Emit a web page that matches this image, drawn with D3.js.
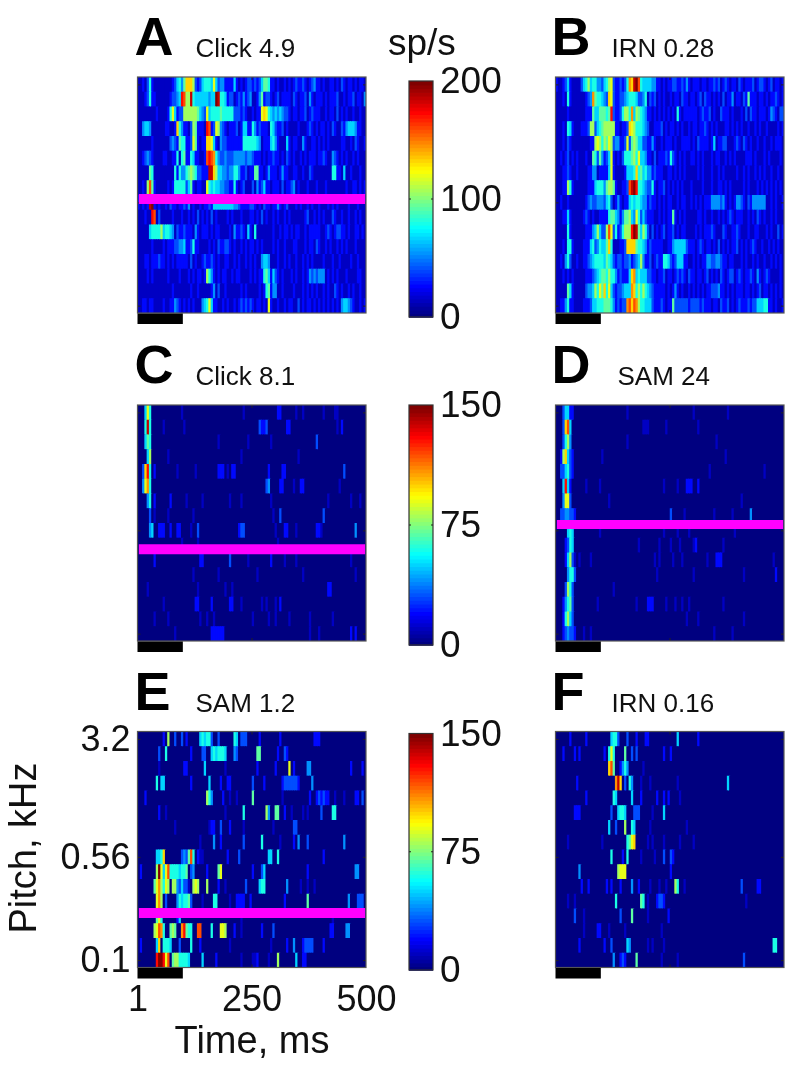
<!DOCTYPE html>
<html>
<head>
<meta charset="utf-8">
<script src="https://cdn.jsdelivr.net/npm/d3@7"></script>
<style>
body{margin:0;background:#fff}
svg{display:block;filter:blur(0.55px)}
text{font-family:"Liberation Sans",Arial,sans-serif;fill:#111}
</style>
</head>
<body>
<svg id="fig" width="800" height="1066"></svg>
<script>
// levels are hex digits, 0 = no spikes, F = top of the colour bar
// dense panels: one string per pitch row (top row first), 100 bins of 5 ms, grouped by 10
var rowsA = [
"1121362111 1111123564 7AAA832356 6659534422 2252121233 2323577622 1211212123 2232123422 1211221213 2122121221",
"1112362211 111123345D C88E655555 5455FE6652 3312324234 1124723321 2312222132 1223142122 2121222311 2122312214",
"1111111121 1112695233 8888887543 9566667666 6633323211 21229A9654 5454332122 1223123222 1121221312 1211211211",
"1145541111 1122112A64 2213872221 DC23984321 2223125522 6423222165 3223121111 2111232121 2212132113 2455542211",
"1111112111 1111343276 6223972122 AA95214332 2222226666 6654122256 4211152122 1142112212 1212111112 2112132112",
"1123432111 1221122616 7226522112 CDCB643343 3344444344 3222121223 2212132121 1212122212 2321143212 1211212111",
"1111176111 1111116264 4678763322 2EEA855443 4466422312 2772212422 2124221122 1121132111 1111166221 5112111211",
"11218C7211 1112126666 6357212211 9656554433 2262123111 3142352212 2213122341 2111211121 1121111111 1211221212",
"21212EF212 1121322122 3241211212 2325555555 5544322223 3212132212 2421231112 1211212112 1112121211 1121112111",
"111211DC13 1111121112 1121213121 2131211112 1211121112 2121312112 1211212111 1112311212 1211132112 1121121211",
"1111156666 8566541322 3222142122 2121221111 2142232152 1611111112 1121221212 2112122222 1123212332 2121122121",
"1111112111 1212223344 5223622111 1212132233 2121121212 2121211112 1211211122 1112122132 1121211212 1211121111",
"1112212223 2212121222 2213121123 2232121122 1121211212 1211455411 1211212112 1121212111 1211121121 1112112111",
"1111212111 1112111121 1121212212 8642121221 1212211112 1212267525 3212111212 1121243434 4412121211 1211112211",
"1111111111 1111121111 1112112111 1124131121 1111121211 1112126724 4112111121 1121212121 1212113212 1121211211",
"1122122111 1211224321 2121211145 6952211212 1121232323 2122121921 1211212211 3121221212 1212121214 5543211212"
];
var rowsB = [
"2112352111 1356856644 3568932232 36BAEFC655 5544221212 2332232421 2221221223 2312321221 3212223123 3212312212",
"1112162111 111234B766 543A932233 4566653346 1323121211 2122132212 2123132212 1213122412 2132722212 2121223212",
"1111121111 1112227557 7767D32236 886B587654 2212121212 1216212222 2212322312 1132221211 1213132212 2212432133",
"1112165211 1222388356 7888882212 23A9866654 3112223121 2212121121 2212232121 2111221212 1211211212 1121111212",
"1112132111 1111122898 6879834422 3937875533 2242112122 2121122221 2132222125 1223311123 2132121121 1211212221",
"1121231212 1112117637 4235921213 6667869554 2213122232 6321212112 2121211121 2211212121 1112221211 1212111121",
"1112232112 1111224412 2225921111 25556A6756 4423222112 2121212111 1121211121 1212111112 1121211212 1211211211",
"1112286211 1111222566 6478872112 23CEFD6654 3362122312 1212121112 1111211121 1221212111 1121211121 2121212121",
"1121121111 1112343344 4356312421 2256566544 2322121212 2112122112 1212122244 4434212124 4321324444 4411212112",
"1112252111 1123212112 2226775424 7785496353 2221121212 2721212111 1122121121 1212123212 2211212132 1211212111",
"1111162111 1112224585 338C936236 888DFE7586 3131212312 2312122111 1212122232 1113211223 2111211221 1121211312",
"1112166211 1122256346 557A611122 3AAAA76654 2322222112 2455555322 2123212212 1312121223 1212123211 2112121211",
"1121463112 1122345666 6576532332 3342345842 2312322665 3235552211 2121224433 4432212211 1212112121 1211212121",
"1112121211 1112223456 7768664232 225AB56555 3322122312 2123232132 2122123121 2132123312 3212232142 1232111121",
"1111175211 1113445869 7A69532334 555BA68686 5432222212 1242121121 2121212233 3422121212 2212212123 1221212121",
"1122462211 1122235566 6777642323 3BCACB8665 5532223212 2733333323 3332322212 2132231212 3222323355 5662212112"
];
// sparse panels: "bin:level" for the bins that have spikes
var rowsC = [
"3:5 4:9 5:6 19:1 46:1 61:2 62:2 69:1 72:1 81:1 86:1 87:1",
"3:6 4:E 5:6 11:1 20:1 53:3 54:2 55:2 56:3 65:2 66:2 87:1 89:2",
"3:5 4:7 5:6 35:1 48:1 58:1 78:3",
"4:5 5:8 13:1 45:1 70:1",
"2:3 3:A 4:D 5:6 7:2 17:1 25:1 35:2 36:2 37:2 39:1 41:2 42:2 57:2 63:2 64:2 90:3",
"2:4 3:9 4:B 5:6 56:3 57:4 62:2 63:2 68:1 71:2 72:2 88:1",
"4:4 5:6 7:2 14:2 21:1 28:1 40:1 45:1 58:1 83:1 93:1 97:1",
"5:3 7:1 13:1 24:1 59:1 62:3 81:3",
"5:4 6:5 9:2 10:2 11:2 14:2 17:2 18:2 23:1 26:3 44:2 45:3 46:3 60:1 64:2 65:2 69:1 78:2 79:2 80:1 95:4",
"19:1 26:1 61:1",
"7:2 27:2 28:2 40:3 48:1 58:2 64:1 69:1 93:1",
"24:1 35:1 52:1 72:1 95:1",
"4:1 26:1 38:1 41:1 83:2 84:2",
"11:1 25:2 26:2 32:2 40:2 41:2 45:1 54:1 56:1 60:1 62:2",
"7:1 13:1 27:1 30:1 33:1 50:1 57:1 60:1 66:1 75:1 85:1",
"16:1 32:2 33:2 34:2 35:2 36:2 37:2 75:1 79:1 93:2 95:2"
];
var rowsD = [
"3:3 4:5 5:5 6:2 7:2 31:1 60:1 75:1",
"3:3 4:A 5:C 6:5 38:1 39:1 40:1 48:1 62:1",
"3:3 4:6 5:8 6:4 31:1 70:1",
"2:2 3:8 4:A 5:5 6:3 7:2 20:1 74:1",
"2:3 3:3 4:5 5:6 6:3 7:2 67:1 91:1",
"3:5 4:D 5:5 6:2 13:1 19:1 47:1 53:1 57:2 58:2 59:2 62:2",
"3:4 4:9 5:9 6:3 23:1 81:1",
"2:3 3:3 4:4 5:4 6:3 7:3 8:2 50:3 56:1 69:1 77:1 85:4",
"5:5 6:6 7:5 19:1 47:1 53:1 58:1 78:1",
"4:2 5:3 6:6 7:5 36:1 45:1 50:1 54:1 60:1 61:2 73:1",
"4:2 5:5 6:8 7:3 8:1 10:1 15:1 43:1 45:1 51:1 55:1 66:1 70:2 71:2 72:2 95:1",
"5:4 6:6 7:6 8:3 44:1 60:1 82:1 96:2",
"4:3 5:8 6:6 7:3 25:1",
"3:2 4:4 5:6 6:7 7:3 18:1 35:1 40:2 41:2 42:2 48:1 52:1 55:1 58:1 73:1",
"3:2 4:6 5:8 6:5 7:3 57:1 62:1 82:1",
"3:2 4:3 5:4 6:3 7:3 8:2 12:1 15:1 69:1 77:1"
];
var rowsE = [
"11:2 13:8 16:3 19:3 21:2 27:5 28:6 29:5 30:6 31:6 32:3 35:3 42:6 43:5 45:3 46:3 47:3 53:2 62:2 77:2 78:2 79:2",
"9:3 12:6 23:2 28:3 29:3 32:5 33:6 34:5 35:6 36:6 37:6 38:5 42:4 43:3 52:7 53:7 61:2 64:3 65:2",
"9:1 20:2 21:2 29:5 38:1 52:2 60:2 66:9 68:2 74:4 75:4 93:2 98:2",
"8:6 10:5 11:5 23:2 31:5 36:2 39:2 40:2 50:3 55:2 63:2 64:3 65:3 66:3 67:3 68:3 69:3 70:2 76:4",
"3:2 30:8 31:6 32:4 37:2 40:1 43:1 50:7 63:1 75:2 78:2 79:3 80:2 81:3 82:2 83:2 86:1 90:1 95:2 96:2 98:3",
"9:2 12:1 38:1 46:6 56:8 57:4 60:7 61:7 64:2 67:1 72:1 74:1 80:3 85:6 86:6",
"16:1 31:1 32:2 33:2 36:3 40:2 46:1 59:1 68:3 69:3",
"27:1 33:4 36:2 46:3 54:6 62:1 68:2 70:4 74:3 90:4",
"8:5 9:5 10:6 11:A 19:3 20:4 21:3 22:7 23:C 24:6 26:2 27:1 28:1 39:2 44:3 57:5 58:5 61:6 81:2",
"1:2 8:8 9:F 10:9 11:5 12:9 13:C 14:6 15:6 16:6 17:6 18:5 19:6 20:6 21:7 23:3 24:4 30:2 35:7 36:9 50:2 54:3 55:5 74:2 95:4 96:4",
"7:7 8:9 9:B 10:8 11:6 12:9 13:8 15:8 16:8 17:4 18:3 19:5 20:3 21:3 22:1 24:8 25:9 26:8 30:8 35:2 38:1 47:3 53:5 54:6 55:6 65:4 71:1 74:1 77:1",
"8:9 9:B 10:8 12:3 17:4 18:6 19:5 20:6 21:6 22:7 23:3 28:1 33:6 34:6 40:1 43:2 44:2 45:2 46:2 49:2 64:2 74:7 92:4 96:3 97:3 98:3",
"8:7 9:9 10:6 17:2 18:5 45:1 85:1",
"7:8 8:9 9:C 10:B 11:6 14:7 15:8 16:7 19:B 20:D 21:7 22:6 23:6 26:C 27:C 32:6 36:9 37:9 38:8 42:2 45:1 54:2 59:3 84:2 85:2 91:4 92:4",
"1:2 8:5 9:A 11:6 12:6 13:6 14:5 18:3 23:6 27:2 40:1 58:1 65:2 68:4 72:2 73:3 74:3 75:3 76:3 81:2",
"8:D 9:F 10:F 11:D 12:9 13:C 15:7 16:8 17:8 18:6 19:6 20:6 21:6 22:5 28:5 34:2 45:1 50:1 51:1 52:2 57:1 61:8 69:5 72:2 73:2"
];
var rowsF = [
"6:2 13:2 24:5 25:6 26:6 27:3 31:3 35:2 39:2 40:2 53:5 62:2",
"3:2 8:2 10:2 21:2 23:6 24:9 25:6 30:7 33:3 35:3 47:2 50:2",
"23:A 24:C 25:7 28:2 29:4 30:6 31:4 38:1",
"9:2 26:B 27:E 28:A 30:3 32:6 33:4 37:1 41:1 53:1 75:5",
"13:2 25:6 26:5 33:5 37:2 44:2 47:2 49:2 54:1",
"8:2 9:2 10:2 24:3 27:5 28:6 29:6 30:5 34:3 35:3 36:3 42:1 47:5",
"23:5 26:3 30:8 33:6 34:5 41:1 57:1",
"5:1 20:1 31:6 32:7 33:9 34:A 40:1 42:1 47:1 54:1 60:1",
"24:6 29:2 31:6 37:1 43:1 47:3 50:3 51:2",
"10:4 27:8 28:9 29:9 30:9 50:2",
"11:2 14:2 22:2 24:2 28:2 33:4 36:2 41:1 45:1 48:1 52:8 53:6 56:1 81:3 88:2 89:2",
"5:1 8:1 26:6 37:7 38:6 40:1 44:2 45:3 46:3 47:2 83:1",
"8:3 12:1 28:3 33:7 40:1 49:2",
"12:1 18:2 19:2 23:1 30:1 46:1",
"10:2 21:2 24:3 31:5 32:4 40:1 42:1 47:1 95:6 96:6",
"25:4 28:2 29:3 30:2 35:7 46:1 53:1 82:3"
];
var titles = ["Click 4.9","IRN 0.28","Click 8.1","SAM 24","SAM 1.2","IRN 0.16"];
var letters = ["A","B","C","D","E","F"];
// rate at the top of the colour bar for each panel, sp/s
var maxRates = [200,200,150,150,150,150];
// pitch of the magenta line, in rows from the top of the panel (null = none)
var linePos = [8.27,null,9.78,8.1,12.3,null];
var timeTicks = [1,250,500];
var pitchTicks = [{row:0,label:"3.2"},{row:8,label:"0.56"},{row:15,label:"0.1"}];
var toneEnd = 100; // ms, black bar under each panel
var barTicks = [[0,100,200],[0,75,150],[0,75,150]];

var nRows = 16, nBins = 100;
var panelW = 228.5, panelH = 236;
var lefts = [137.5,555.5];
var tops = [77,405,731.5];
var barTops = [81,405,733.5], barHs = [236,240,236.5], barW = 24, barLeft = 409;

function denso(rows){
    return rows.map(function(r){
        return r.replace(/ /g,"").split("").map(function(c){ return parseInt(c,16); });
    });
}
function disperso(rows){
    return rows.map(function(r){
        var out = d3.range(nBins).map(function(){ return 0; });
        r.split(" ").forEach(function(p){
            var q = p.split(":");
            out[+q[0]] = parseInt(q[1],16);
        });
        return out;
    });
}
var panels = [denso(rowsA),denso(rowsB),disperso(rowsC),disperso(rowsD),disperso(rowsE),disperso(rowsF)];

function jet(t){
    var f = function(a){ return Math.max(0,Math.min(1,1.5-Math.abs(4*t-a))); };
    return d3.rgb(255*f(3),255*f(2),255*f(1)).formatRgb();
}

var svg = d3.select("#fig");
var FONT = '"Liberation Sans",Arial,sans-serif';

function heatmap(i){
    var col = i%2, fila = Math.floor(i/2);
    var x0 = lefts[col], y0 = tops[fila];
    var g = svg.append("g").attr("transform","translate("+x0+","+y0+")");
    var xBin = d3.scaleBand().domain(d3.range(nBins)).range([0,panelW]);
    var yRow = d3.scaleBand().domain(d3.range(nRows)).range([0,panelH]);
    var xTime = d3.scaleLinear().domain([1,500]).range([0,panelW]);
    var yPos = d3.scaleLinear().domain([0,nRows]).range([0,panelH]);
    var color = d3.scaleSequential(jet).domain([0,maxRates[i]]);

    svg.append("clipPath").attr("id","clip"+i)
        .append("rect").attr("width",panelW).attr("height",panelH);

    g.append("g").attr("clip-path","url(#clip"+i+")")
        .selectAll("g.fila")
        .data(panels[i])
        .enter().append("g")
        .attr("class","fila")
        .attr("transform",function(d,r){ return "translate(0,"+yRow(r)+")"; })
        .selectAll("rect")
        .data(function(d){ return d; })
        .enter().append("rect")
        .attr("x",function(d,b){ return xBin(b); })
        .attr("width",xBin.bandwidth()+1)
        .attr("height",yRow.bandwidth()+1)
        .attr("fill",function(d){ return color(d/15*maxRates[i]); });

    // small inward ticks, no labels here
    var yAxis = d3.axisLeft(yPos).tickValues(pitchTicks.map(function(p){ return p.row+0.5; })).tickSize(-3).tickFormat("");
    var yAxisR = d3.axisRight(yPos).tickValues(pitchTicks.map(function(p){ return p.row+0.5; })).tickSize(-3).tickFormat("");
    var xAxis = d3.axisTop(xTime).tickValues([250]).tickSize(-3).tickFormat("");
    var xAxisB = d3.axisBottom(xTime).tickValues([250]).tickSize(-3).tickFormat("");
    g.append("g").attr("class","eje").call(yAxis);
    g.append("g").attr("class","eje").attr("transform","translate("+panelW+",0)").call(yAxisR);
    g.append("g").attr("class","eje").call(xAxis);
    g.append("g").attr("class","eje").attr("transform","translate(0,"+panelH+")").call(xAxisB);
    g.selectAll(".eje .domain").remove();
    g.selectAll(".eje line").attr("stroke","#222");

    g.append("rect")
        .attr("width",panelW).attr("height",panelH)
        .attr("fill","none").attr("stroke","#555").attr("stroke-width",1.2);

    if(linePos[i]!==null){
        g.append("line")
            .attr("x1",xTime(4)).attr("x2",xTime(498))
            .attr("y1",yPos(linePos[i])).attr("y2",yPos(linePos[i]))
            .attr("stroke","#ff00ff").attr("stroke-width",i==3?9:10);
    }

    // stimulus bar
    g.append("rect")
        .attr("x",xTime(1)).attr("y",panelH+0.5)
        .attr("width",xTime(toneEnd)-xTime(1)).attr("height",10.5)
        .attr("fill","#000");

    g.append("text").text(letters[i])
        .attr("x",col==0?-3:-4).attr("y",-22)
        .attr("font-size",54).attr("font-weight","bold").style("fill","#000");
    g.append("text").text(titles[i])
        .attr("x",col==0?58:[56,62,56][fila]).attr("y",-20)
        .attr("font-size",26);

    return {g:g,xTime:xTime,yPos:yPos};
}

function colorbar(k){
    var vals = barTicks[k];
    var y0 = barTops[k], barH = barHs[k];
    var g = svg.append("g").attr("transform","translate("+barLeft+","+y0+")");
    var yRate = d3.scaleLinear().domain([0,vals[2]]).range([barH,0]);
    var steps = d3.range(64);
    var yStep = d3.scaleBand().domain(steps).range([barH,0]);
    g.selectAll("rect")
        .data(steps)
        .enter().append("rect")
        .attr("x",0).attr("width",barW)
        .attr("y",function(d){ return yStep(d); })
        .attr("height",yStep.bandwidth()+0.8)
        .attr("fill",function(d){ return jet(d/63); });
    g.append("rect").attr("width",barW).attr("height",barH)
        .attr("fill","none").attr("stroke","#333").attr("stroke-width",1.2);
    var axis = d3.axisRight(yRate).tickValues(vals).tickSize(0).tickPadding(7);
    var ax = g.append("g").attr("transform","translate("+barW+",0)").call(axis);
    ax.select(".domain").remove();
    ax.selectAll("text").attr("font-size",37).style("font-family",FONT).style("fill","#111");
    g.selectAll(null).data([vals[1]]).enter().append("line")
        .attr("x1",0).attr("x2",2).attr("y1",yRate).attr("y2",yRate).attr("stroke","#222");
    g.selectAll(null).data([vals[1]]).enter().append("line")
        .attr("x1",barW-2).attr("x2",barW).attr("y1",yRate).attr("y2",yRate).attr("stroke","#222");
}

var drawn = d3.range(6).map(heatmap);
d3.range(3).forEach(colorbar);

svg.append("text").text("sp/s")
    .attr("x",388).attr("y",55).attr("font-size",37);

// labelled axes of panel E
var e = drawn[4];
var eX = d3.axisBottom(e.xTime).tickValues(timeTicks).tickSize(0).tickPadding(18);
var axX = e.g.append("g").attr("transform","translate(0,"+panelH+")").call(eX);
axX.select(".domain").remove();
axX.selectAll("text").attr("font-size",36).style("font-family",FONT).style("fill","#111");

var eY = d3.axisLeft(e.yPos)
    .tickValues(pitchTicks.map(function(p){ return p.row+0.5; }))
    .tickFormat(function(d,i){ return pitchTicks[i].label; })
    .tickSize(0).tickPadding(7);
var axY = e.g.append("g").call(eY);
axY.select(".domain").remove();
axY.selectAll("text").attr("font-size",36).style("font-family",FONT).style("fill","#111");

svg.append("text").text("Time, ms")
    .attr("x",252).attr("y",1053).attr("text-anchor","middle").attr("font-size",38);
svg.append("text").text("Pitch, kHz")
    .attr("transform","translate(36,848) rotate(-90)")
    .attr("text-anchor","middle").attr("font-size",38);
</script>
</body>
</html>
